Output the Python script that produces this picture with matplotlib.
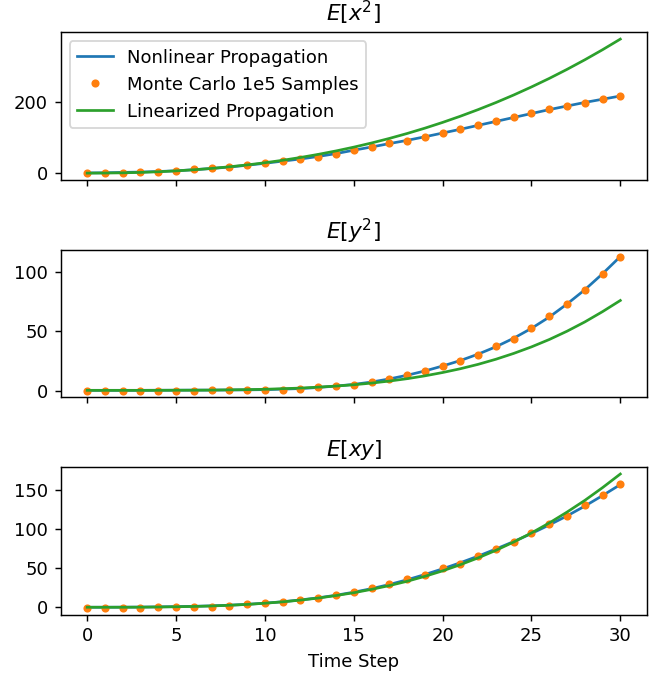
import matplotlib
matplotlib.use("Agg")
import matplotlib.pyplot as plt
import numpy as np

# === DATOS ===
pasos = np.arange(31)

ex2_nonlinear = [1.0, 1.5, 2.5, 3.5, 5.0, 7.0, 10.0, 13.5, 17.5, 22.5, 28.0, 34.0, 40.0, 47.0, 55.0,
                 64.5, 73.5, 83.0, 92.0, 102.0, 112.5, 123.0, 134.0, 145.0, 156.0, 167.0, 178.0,
                 188.0, 198.0, 207.0, 216.0]
ex2_mc = [0.5, 0.8, 1.5, 3.0, 4.0, 7.0, 11.0, 15.0, 19.0, 23.0, 29.0, 33.0, 39.0, 46.0, 54.0,
          65.0, 73.5, 84.0, 91.0, 102.0, 113.5, 124.0, 134.0, 146.0, 156.0, 168.0, 179.0,
          189.0, 197.0, 207.0, 216.0]
ex2_linear = [0.5, 0.7, 1.3, 2.5, 4.3, 6.8, 9.9, 13.6, 18.2, 23.4, 29.5, 36.4, 44.2, 52.9, 62.5,
              73.1, 84.7, 97.4, 111.2, 126.1, 142.2, 159.5, 178.0, 197.7, 218.8, 241.3, 265.1,
              290.4, 317.1, 345.3, 375.0]

ey2_nonlinear = [0.3, 0.3, 0.3, 0.3, 0.4, 0.4, 0.5, 0.5, 0.6, 0.7, 0.9, 1.3, 1.8, 2.7, 3.9,
                 5.3, 7.3, 9.9, 13.0, 16.6, 20.8, 25.4, 30.8, 37.0, 44.2, 52.5, 62.0,
                 73.0, 85.0, 98.5, 113.0]
ey2_mc = [0.1, 0.1, 0.1, 0.1, 0.1, 0.1, 0.1, 0.2, 0.2, 0.6, 1.0, 1.0, 1.7, 2.8, 4.2,
          5.1, 7.6, 10.2, 13.0, 16.7, 20.7, 25.2, 30.3, 37.4, 43.9, 52.7, 62.9,
          73.1, 85.0, 98.3, 112.7]
ey2_linear = [0.3, 0.3, 0.3, 0.3, 0.3, 0.4, 0.4, 0.5, 0.7, 0.9, 1.2, 1.7, 2.2, 3.0, 3.9,
              5.0, 6.4, 8.1, 10.1, 12.5, 15.3, 18.5, 22.2, 26.5, 31.4, 36.9, 43.1,
              50.1, 57.9, 66.6, 76.0]

exy_nonlinear = [0.0, 0.0, 0.1, 0.2, 0.5, 0.8, 1.2, 1.8, 2.6, 3.7, 5.2, 7.0, 9.3, 12.0, 15.3,
                 19.2, 23.7, 29.0, 35.0, 41.7, 49.0, 56.8, 65.2, 74.3, 83.8, 94.0, 105.0,
                 116.5, 129.0, 142.5, 156.5]
exy_mc = [-0.5, -1.0, -1.0, -1.0, 0.5, 0.5, 0.5, 0.3, 2.0, 3.5, 5.0, 6.5, 9.0, 12.0, 16.0,
          19.3, 24.4, 29.4, 36.0, 41.0, 49.6, 55.5, 65.5, 74.0, 83.0, 94.5, 106.0,
          117.0, 130.0, 143.7, 157.0]
exy_linear = [0.0, 0.0, 0.0, 0.1, 0.3, 0.6, 1.0, 1.6, 2.5, 3.6, 5.1, 6.9, 9.1, 11.7, 14.9,
              18.5, 22.8, 27.6, 33.1, 39.4, 46.4, 54.3, 63.0, 72.6, 83.2, 94.8, 107.5,
              121.4, 136.3, 152.6, 170.0]

titulos = [r"$E[x^2]$", r"$E[y^2]$", r"$E[xy]$"]
yticks = [[0, 200], [0, 50, 100], [0, 50, 100, 150]]
xticks = [0, 5, 10, 15, 20, 25, 30]
series = [
    (ex2_nonlinear, ex2_mc, ex2_linear),
    (ey2_nonlinear, ey2_mc, ey2_linear),
    (exy_nonlinear, exy_mc, exy_linear),
]

# === VISUALIZAR ===
dpi = 130
fig, axes = plt.subplots(3, 1, sharex=True, figsize=(662 / dpi, 675 / dpi), dpi=dpi)
fig.subplots_adjust(left=0.0914, right=0.9773, top=0.952, bottom=0.0893, hspace=0.475)

for ax, titulo, (nl, mc, lin), yt in zip(axes, titulos, series, yticks):
    ax.plot(pasos, nl, color="C0", linewidth=1.5, label="Nonlinear Propagation")
    ax.plot(pasos, mc, ".", color="C1", markersize=7, label="Monte Carlo 1e5 Samples")
    ax.plot(pasos, lin, color="C2", linewidth=1.5, label="Linearized Propagation")
    ax.set_title(titulo)
    ax.set_yticks(yt)

axes[0].legend(loc="upper left")
axes[-1].set_xlabel("Time Step")
axes[-1].set_xticks(xticks)

fig.savefig("out.png", dpi=dpi)
